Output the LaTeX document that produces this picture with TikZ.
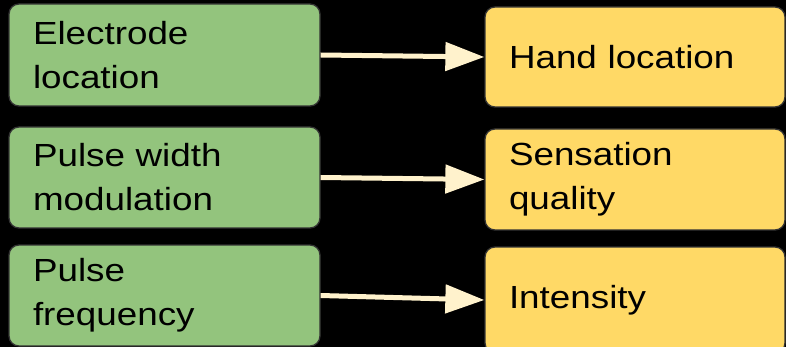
\documentclass[tikz,border=0pt]{standalone}
\usepackage{fontspec}
\setmainfont{Liberation Sans}[FakeStretch=1.15]
\usetikzlibrary{arrows.meta}
\definecolor{gbox}{HTML}{93C47D}
\definecolor{ybox}{HTML}{FFD966}
\definecolor{bord}{HTML}{333333}
\definecolor{cream}{HTML}{FFF2CC}
\begin{document}
\begin{tikzpicture}[x=1pt,y=-1pt,
  box/.style={draw=bord, line width=1.3pt, rounded corners=10pt, inner xsep=24pt, inner ysep=0pt,
    align=left, font=\fontsize{32}{44}\selectfont, text=black},
  greenbox/.style={box, fill=gbox, text width=263pt, minimum width=311pt},
  yellowbox/.style={box, fill=ybox, text width=252pt, minimum width=300pt},
  conn/.style={draw=cream, line width=5pt, -{Triangle[length=39pt,width=28pt]}}
]
\fill[black] (0,0) rectangle (786,347);
\useasboundingbox (0,0) rectangle (786,347);

\node[greenbox, minimum height=102pt] (g1) at (164.5,55) {Electrode\\location};
\node[greenbox, minimum height=101pt] (g2) at (164.5,177.5) {Pulse width\\modulation};
\node[greenbox, minimum height=101pt] (g3) at (164.5,295.5) {Pulse\\frequency};

\node[yellowbox, minimum height=100pt] (y1) at (635,57) {Hand location};
\node[yellowbox, minimum height=101pt] (y2) at (635,179.5) {Sensation\\quality};
\node[yellowbox, minimum height=106pt] (y3) at (635,300) {Intensity};

\draw[conn] (g1.east) -- (y1.west);
\draw[conn] (g2.east) -- (y2.west);
\draw[conn] (g3.east) -- (y3.west);
\end{tikzpicture}
\end{document}
